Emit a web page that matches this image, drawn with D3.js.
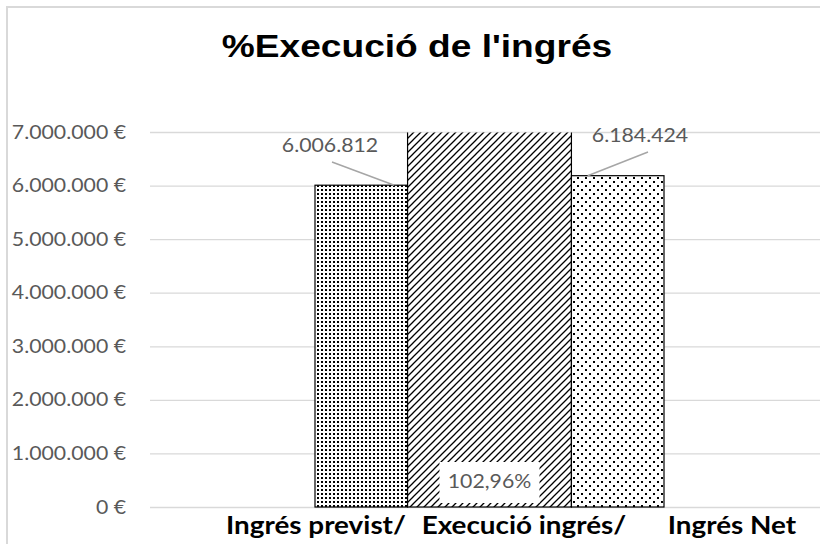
<!DOCTYPE html>
<html>
<head>
<meta charset="utf-8">
<script src="https://cdn.jsdelivr.net/npm/d3@7"></script>
<style>
  body { margin: 0; background: #fff; }
  svg { display: block; }
</style>
</head>
<body>
<main></main>
<script>
// data
const categories = ["Ingrés previst/", "Execució ingrés/", "Ingrés Net"];
const barValues = [6006812, null, 6184424];   // euros, middle bar is on hidden % axis
const execRatio = 1.0296;                       // 102,96%
const valueLabels = ["6.006.812", "102,96%", "6.184.424"];
const yTicks = [0, 1000000, 2000000, 3000000, 4000000, 5000000, 6000000, 7000000];

var width = 820;
var height = 544;
const sx = 1.16; // the reference text is a bit wide, stretch it

var svg = d3.select("main")
  .append("svg")
  .attr("width", width)
  .attr("height", height);

//patterns
var defs = svg.append("defs");

var p1 = defs.append("pattern")
  .attr("id", "dense")
  .attr("patternUnits", "userSpaceOnUse")
  .attr("width", 4).attr("height", 4);
p1.append("rect").attr("width", 4).attr("height", 4).attr("fill", "#fff");
p1.append("rect").attr("x", 1).attr("y", 1).attr("width", 2).attr("height", 2).attr("fill", "#000");

var p2 = defs.append("pattern")
  .attr("id", "diag")
  .attr("patternUnits", "userSpaceOnUse")
  .attr("width", 7).attr("height", 7);
p2.append("rect").attr("width", 7).attr("height", 7).attr("fill", "#fff");
p2.append("path")
  .attr("d", "M-1,8 L8,-1 M-1,1 L1,-1 M6,8 L8,6")
  .attr("stroke", "#000")
  .attr("stroke-width", 1.3);

var p3 = defs.append("pattern")
  .attr("id", "sparse")
  .attr("patternUnits", "userSpaceOnUse")
  .attr("width", 8).attr("height", 8);
p3.append("rect").attr("width", 8).attr("height", 8).attr("fill", "#fff");
p3.append("rect").attr("x", 1).attr("y", 1).attr("width", 2).attr("height", 2).attr("fill", "#000");
p3.append("rect").attr("x", 5).attr("y", 5).attr("width", 2).attr("height", 2).attr("fill", "#000");

const fills = ["url(#dense)", "url(#diag)", "url(#sparse)"];

defs.append("clipPath")
  .attr("id", "plotclip")
  .append("rect")
  .attr("x", 0).attr("y", 132.6)
  .attr("width", width).attr("height", 400);

//chart frame
svg.append("path")
  .attr("d", "M7,544 L7,7 L820,7")
  .attr("fill", "none")
  .attr("stroke", "#d9d9d9")
  .attr("stroke-width", 2);

//title
svg.append("text")
  .text("%Execució de l'ingrés")
  .attr("transform", "translate(417,57) scale(" + sx + ",1)")
  .attr("text-anchor", "middle")
  .style("font-family", "'Liberation Sans', Arial, sans-serif")
  .style("font-weight", "bold")
  .style("font-size", "32px")
  .style("fill", "#000");

//scales
const yScale = d3.scaleLinear()
  .domain([0, 7000000])
  .range([507, 132]);

const yPct = d3.scaleLinear()
  .domain([0, 1])
  .range([507, 132])
  .clamp(true);

const xLabel = d3.scalePoint()
  .domain(categories)
  .range([316, 732]);

// bars sit side by side, the middle one wider
const slotWeights = [1, 1.77, 1];
const slotEdges = [0];
slotWeights.forEach(w => slotEdges.push(slotEdges[slotEdges.length - 1] + w));
const xBar = d3.scaleLinear()
  .domain([0, slotEdges[slotEdges.length - 1]])
  .range([315, 664]);

//grid
const tickSx = 1.12;
var y_axis = d3.axisLeft(yScale)
  .tickValues(yTicks)
  .tickSize(-670)
  .tickPadding(24 / tickSx)
  .tickFormat(d => d3.format(",")(d).replace(/,/g, ".") + " €");

var gy = svg.append("g")
  .attr("id", "y-axis")
  .attr("transform", "translate(150,0)")
  .call(y_axis);
gy.select(".domain").remove();
gy.selectAll(".tick line")
  .attr("stroke", "#d9d9d9")
  .attr("stroke-width", 1.3);
gy.selectAll(".tick text")
  .attr("transform", "scale(" + tickSx + ",1)")
  .style("font-family", "Lato, 'Open Sans', sans-serif")
  .style("font-size", "19px")
  .style("fill", "#595959");

//bars
const barTop = (d, i) => d === null ? yPct(execRatio) : yScale(d);

svg.append("g")
  .attr("clip-path", "url(#plotclip)")
  .selectAll("rect.bar")
  .data(barValues)
  .enter()
  .append("rect")
  .attr("class", "bar")
  .attr("x", (d, i) => xBar(slotEdges[i]))
  .attr("width", (d, i) => xBar(slotEdges[i + 1]) - xBar(slotEdges[i]))
  .attr("y", (d, i) => d === null ? barTop(d, i) - 2 : barTop(d, i))
  .attr("height", (d, i) => 507 - barTop(d, i) + (d === null ? 2 : 0))
  .attr("fill", (d, i) => fills[i])
  .attr("stroke", "#000")
  .attr("stroke-width", 1.2);

//data labels
const labelFont = "Lato, 'Open Sans', sans-serif";
const leaderStart = [[332, 162], null, [648, 152]];
const labelPos = [[330, 147], null, [640, 137]];

[0, 2].forEach(i => {
  const bx = (xBar(slotEdges[i]) + xBar(slotEdges[i + 1])) / 2;
  svg.append("line")
    .attr("x1", leaderStart[i][0]).attr("y1", leaderStart[i][1])
    .attr("x2", i === 0 ? bx + 33 : bx - 30)
    .attr("y2", yScale(barValues[i]))
    .attr("stroke", "#a6a6a6")
    .attr("stroke-width", 1.5);
  svg.append("text")
    .text(valueLabels[i])
    .attr("transform", "translate(" + labelPos[i][0] + "," + labelPos[i][1] + ") scale(" + tickSx + ",1)")
    .attr("text-anchor", "middle")
    .attr("dominant-baseline", "middle")
    .style("font-family", labelFont)
    .style("font-size", "19px")
    .style("fill", "#595959");
});

const midX = (xBar(slotEdges[1]) + xBar(slotEdges[2])) / 2;
svg.append("rect")
  .attr("x", midX - 50)
  .attr("y", 462)
  .attr("width", 100)
  .attr("height", 41)
  .attr("fill", "#fff");
svg.append("text")
  .text(valueLabels[1])
  .attr("transform", "translate(" + midX + ",483) scale(" + tickSx + ",1)")
  .attr("text-anchor", "middle")
  .attr("dominant-baseline", "middle")
  .style("font-family", labelFont)
  .style("font-size", "19px")
  .style("fill", "#595959");

//category labels
svg.selectAll("text.cat")
  .data(categories)
  .enter()
  .append("text")
  .attr("class", "cat")
  .text(d => d)
  .attr("transform", d => "translate(" + xLabel(d) + ",534) scale(" + sx + ",1)")
  .attr("text-anchor", "middle")
  .style("font-family", "Lato, 'Open Sans', sans-serif")
  .style("font-weight", "bold")
  .style("font-size", "24px")
  .style("fill", "#000");
</script>
</body>
</html>
